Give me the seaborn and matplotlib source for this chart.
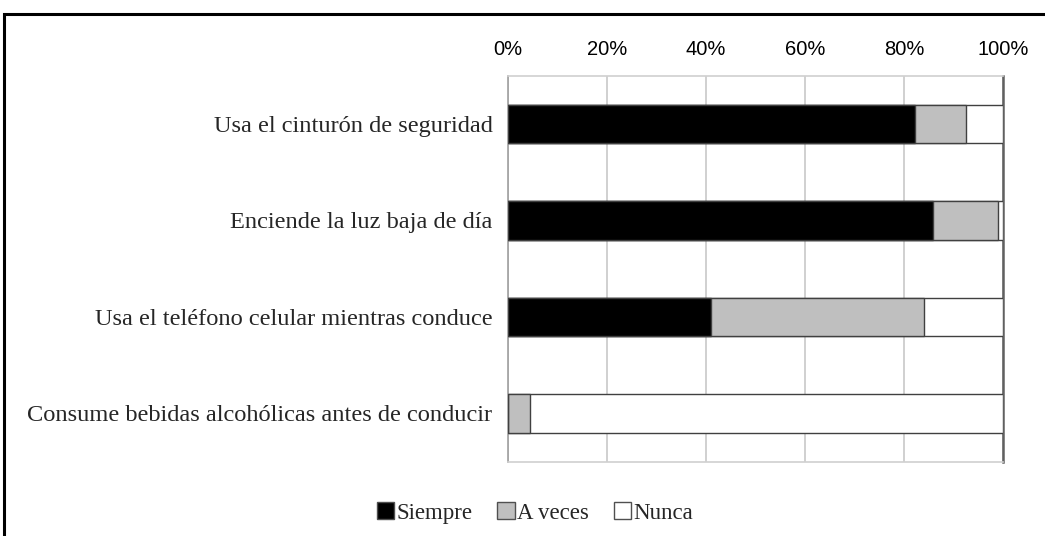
import matplotlib
matplotlib.use("Agg")
import matplotlib.pyplot as plt
import seaborn as sns
import pandas as pd
import numpy as np
from matplotlib.patches import Patch, Rectangle

categories = [
    "Usa el cinturón de seguridad",
    "Enciende la luz baja de día",
    "Usa el teléfono celular mientras conduce",
    "Consume bebidas alcohólicas antes de conducir",
]
siempre = [82.2, 85.9, 41.0, 0.0]
a_veces = [10.3, 13.0, 43.0, 4.6]
nunca = [7.5, 1.1, 16.0, 95.4]
series_names = ["Siempre", "A veces", "Nunca"]
series_colors = ["#000000", "#bfbfbf", "#ffffff"]
xticks = [0, 20, 40, 60, 80, 100]
xtick_labels = ["0%", "20%", "40%", "60%", "80%", "100%"]

sns.set_style("white")
plt.rcParams["font.family"] = ["Liberation Serif", "DejaVu Serif"]

df = pd.DataFrame({"cat": categories, "s": siempre, "a": a_veces, "n": nunca})
df["c1"] = df["s"]
df["c2"] = df["s"] + df["a"]
df["c3"] = df["s"] + df["a"] + df["n"]

fig = plt.figure(figsize=(10.45, 5.36), dpi=100)
W, H = 1045, 536
ax = fig.add_axes([507.7 / W, 1 - 461.7 / H, (1003 - 507.7) / W, (461.7 - 75.7) / H])

edge = "#404040"
for col, color in zip(["c3", "c2", "c1"], series_colors[::-1]):
    sns.barplot(data=df, x=col, y="cat", orient="h", color=color, width=0.4,
                edgecolor=edge, linewidth=1.0, saturation=1, ax=ax, zorder=3)

ax.set_xlim(0, 100)
ax.set_ylim(3.5, -0.5)
ax.set_xlabel("")
ax.set_ylabel("")

# grid
ax.set_xticks(xticks)
ax.set_xticklabels(xtick_labels, family=["Liberation Sans Narrow", "Liberation Sans"], fontsize=14.5)
ax.xaxis.tick_top()
ax.tick_params(axis="x", length=0, pad=12, colors="#000000")
ax.grid(axis="x", color="#c8c8c8", linewidth=1.2, zorder=0)
ax.set_axisbelow(True)

# y ticks: boundaries as major (lines), categories as minor (labels)
ax.set_yticks([-0.5, 0.5, 1.5, 2.5, 3.5])
ax.set_yticklabels([])
ax.set_yticks(range(len(categories)), minor=True)
ax.set_yticklabels(categories, minor=True, fontsize=17.6)
ax.tick_params(axis="y", which="major", length=7, color="#b0b0b0", width=1.2)
ax.tick_params(axis="y", which="minor", length=0, pad=11)

for side in ["top", "bottom"]:
    ax.spines[side].set_color("#d0d0d0")
    ax.spines[side].set_linewidth(1.2)
ax.spines["left"].set_color("#a0a0a0")
ax.spines["left"].set_linewidth(1.2)
ax.spines["right"].set_color("#606060")
ax.spines["right"].set_linewidth(1.8)

handles = [Patch(facecolor=c, edgecolor="#505050", linewidth=1.0, label=n)
           for n, c in zip(series_names, series_colors)]
fig.legend(handles=handles, loc="center", bbox_to_anchor=(535 / W, 1 - 513 / H),
           ncol=3, frameon=False, fontsize=16.5, handlelength=0.75, handleheight=0.75,
           handletextpad=0.1, columnspacing=1.1)

# figure frame
fig.add_artist(Rectangle((4 / W, -0.05), 1.1, 1 - 14 / H + 0.05, transform=fig.transFigure,
                         fill=False, edgecolor="black", linewidth=2.2))

fig.savefig("out.png", dpi=100, facecolor="white")
